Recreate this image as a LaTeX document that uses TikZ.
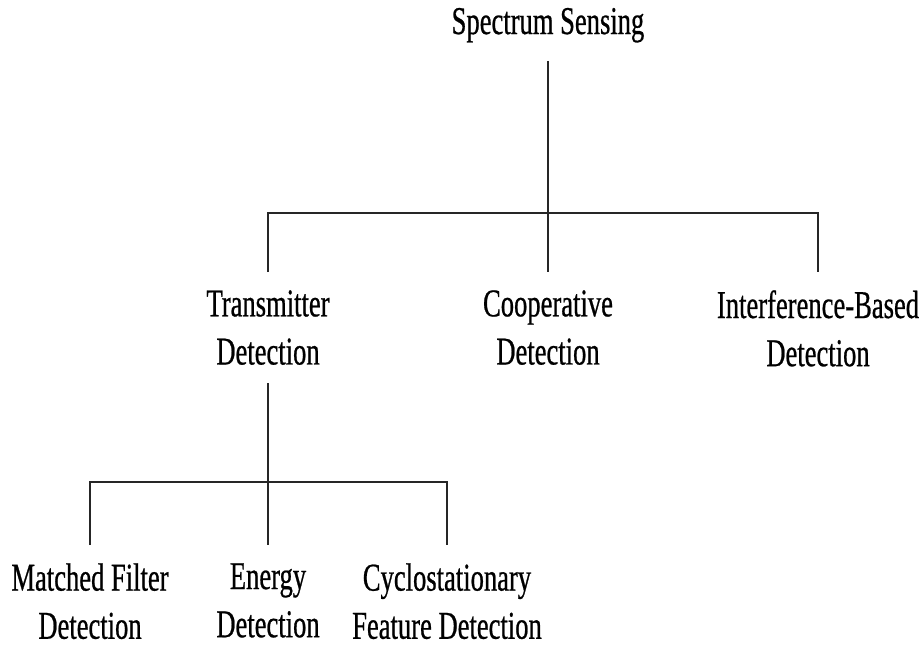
\documentclass[tikz,border=0pt]{standalone}
\usepackage{fontspec}
\setmainfont{Liberation Serif}[FakeStretch=0.675, FakeBold=0.6]
\usetikzlibrary{positioning}

\tikzset{
    label/.style={align=center, inner xsep=2pt, inner ysep=5pt,
        font=\fontsize{11.2pt}{13.7pt}\selectfont},
    branch/.style={line width=0.7pt, draw=black!85}
}

\begin{document}
\begin{tikzpicture}[x=0.1mm, y=-0.1mm]
    \useasboundingbox (0,0) rectangle (922,648);
    \node[label, anchor=base] (ss) at (548,34) {Spectrum Sensing};
    \node[label, anchor=north] (td) at (268,272) {Transmitter\\Detection};
    \node[label, anchor=north] (cd) at (548,272) {Cooperative\\Detection};
    \node[label, anchor=north] (ibd) at (818,272) {Interference-Based\\Detection};
    \node[label, anchor=north] (mfd) at (90,545) {Matched Filter\\Detection};
    \node[label, anchor=north] (ed) at (268,545) {Energy\\Detection};
    \node[label, anchor=north] (cfd) at (447,545) {Cyclostationary\\Feature Detection};
    \coordinate (top) at (548,213);
    \coordinate (low) at (268,482);
    \draw[branch] (ss.south) -- (top);
    \draw[branch] (td.north) |- (top) -| (ibd.north);
    \draw[branch] (top) -- (cd.north);
    \draw[branch] (td.south) -- (low);
    \draw[branch] (mfd.north) |- (low) -| (cfd.north);
    \draw[branch] (low) -- (ed.north);
\end{tikzpicture}
\end{document}
